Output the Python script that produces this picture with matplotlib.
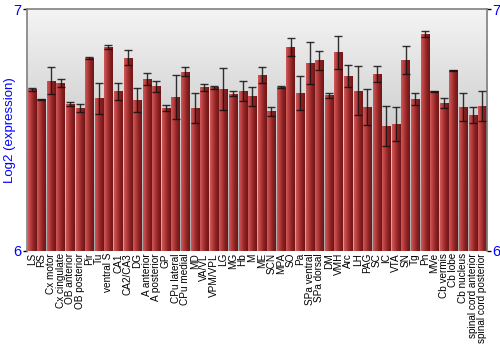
import numpy as np
import matplotlib
matplotlib.use("Agg")
import matplotlib.pyplot as plt
from matplotlib.colors import LinearSegmentedColormap

plt.rcParams['font.family'] = ['Liberation Sans', 'DejaVu Sans']

categories = ["LS", "RS", "Cx motor", "Cx cingulate", "OB anterior", "OB posterior", "Pir", "Tu",
              "ventral S", "CA1", "CA2/CA3", "DG", "A anterior", "A posterior", "GP", "CPu lateral",
              "CPu medial", "MD", "VA/VL", "VPM/VPL", "LG", "MG", "Hb", "M", "ME", "SCN", "MPA",
              "SO", "Pa", "SPa ventral", "SPa dorsal", "DM", "VMH", "Arc", "LH", "PAG", "SC", "IC",
              "VTA", "SN", "Tg", "Pn", "MVe", "Cb vermis", "Cb lobe", "Cb nucleus",
              "spinal cord anterior", "spinal cord posterior"]
values = [6.669, 6.628, 6.705, 6.694, 6.608, 6.592, 6.799, 6.633,
          6.844, 6.662, 6.801, 6.625, 6.713, 6.681, 6.592, 6.637,
          6.743, 6.592, 6.677, 6.677, 6.672, 6.651, 6.663, 6.641, 6.727, 6.578, 6.677,
          6.845, 6.655, 6.778, 6.789, 6.645, 6.822, 6.724, 6.663, 6.596, 6.732, 6.517,
          6.527, 6.790, 6.629, 6.898, 6.662, 6.612, 6.749, 6.596,
          6.563, 6.600]
errors = [0.005, 0.002, 0.057, 0.017, 0.007, 0.018, 0.004, 0.064,
          0.007, 0.035, 0.033, 0.048, 0.024, 0.024, 0.012, 0.090,
          0.019, 0.063, 0.015, 0.006, 0.087, 0.011, 0.041, 0.039, 0.033, 0.019, 0.004,
          0.036, 0.070, 0.087, 0.039, 0.010, 0.068, 0.047, 0.102, 0.076, 0.034, 0.084,
          0.070, 0.059, 0.024, 0.014, 0.002, 0.021, 0.002, 0.057,
          0.033, 0.061]
y_ticks = [6, 7]

fig = plt.figure(figsize=(5, 3.5), dpi=100)
ax = fig.add_axes([0.054, 0.283, 0.920, 0.690])
ymin, ymax = 6, 7
n = len(categories)
x = np.arange(n)
ax.set_xlim(-0.5, n - 0.5)
ax.set_ylim(ymin, ymax)

# background vertical gradient
bg = LinearSegmentedColormap.from_list("bg", ["#a9a9a9", "#f4f4f4"])
grad_v = np.linspace(0, 1, 256).reshape(-1, 1)
ax.imshow(grad_v, cmap=bg, aspect="auto", extent=[-0.5, n - 0.5, ymin, ymax],
          origin="lower", zorder=0)

# bars with horizontal gradient
bars = ax.bar(x, [v - ymin for v in values], bottom=ymin, width=0.86,
              color="none", edgecolor="none", zorder=2)
barcm = LinearSegmentedColormap.from_list("bar", ["#d05a5a", "#b33a3a", "#8a2222", "#6e1616"])
grad_h = np.linspace(0, 1, 64).reshape(1, -1)
for b in bars:
    im = ax.imshow(grad_h, cmap=barcm, aspect="auto",
                   extent=[b.get_x(), b.get_x() + b.get_width(), ymin, b.get_y() + b.get_height()],
                   zorder=2)
    im.set_clip_path(b)

ax.errorbar(x, values, yerr=errors, fmt="none", ecolor="#111111", elinewidth=1.0,
            capsize=3, capthick=1.0, alpha=0.85, zorder=3)

ax.set_xticks(x)
ax.set_xticklabels(categories, rotation=90, fontsize=7.2)
ax.tick_params(axis="x", length=0, pad=1.5)
ax.set_yticks(y_ticks)
ax.set_yticklabels([str(t) for t in y_ticks], color="blue", fontsize=10.5)
ax.tick_params(axis="y", length=3, width=1, color="black", left=True, right=True,
               labelleft=True, labelright=True, pad=1)
ax.set_ylabel("Log2 (expression)", color="blue", fontsize=9.5)
ax.yaxis.set_label_coords(-0.024, 0.5)

for side in ["left", "right", "top"]:
    ax.spines[side].set_color("#808080")
    ax.spines[side].set_linewidth(1.2)
ax.spines["bottom"].set_visible(False)

fig.savefig("out.png", dpi=100)
